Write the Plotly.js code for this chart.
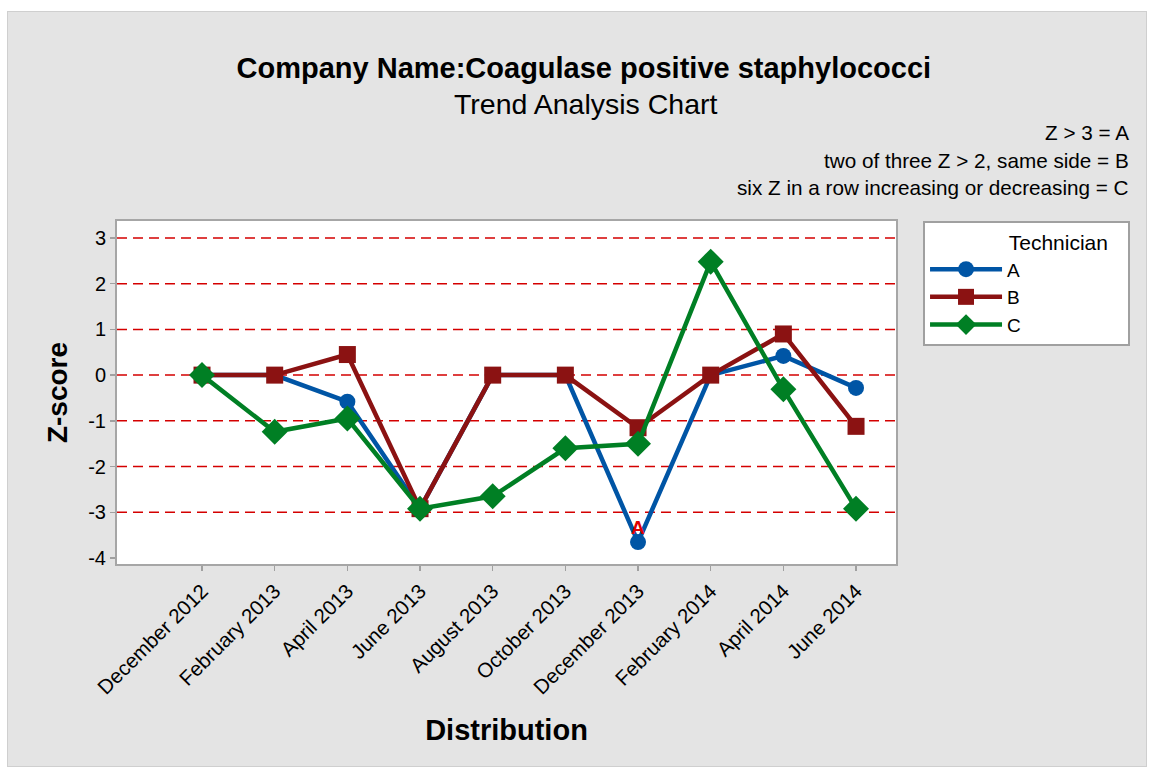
<!DOCTYPE html>
<html>
<head>
<meta charset="utf-8">
<script src="https://cdn.plot.ly/plotly-3.0.1.min.js"></script>
<style>
html,body{margin:0;padding:0;background:#ffffff;}
#chart{position:absolute;left:7px;top:11px;width:1138px;height:754px;border:1px solid #cfcfcf;}
</style>
</head>
<body>
<div id="chart"></div>
<script>
const categories = ["December 2012","February 2013","April 2013","June 2013","August 2013","October 2013","December 2013","February 2014","April 2014","June 2014"];
const techA = [0, 0, -0.58, -2.92, 0, 0, -3.65, 0, 0.42, -0.28];
const techB = [0, 0, 0.45, -2.92, 0, 0, -1.15, 0, 0.9, -1.12];
const techC = [0, -1.24, -0.95, -2.92, -2.65, -1.6, -1.5, 2.48, -0.31, -2.92];
const yTicks = [-4, -3, -2, -1, 0, 1, 2, 3];
const yTickLabels = ["-4", "-3", "-2", "-1", "0", "1", "2", "3"];
const refLevels = [-3, -2, -1, 0, 1, 2, 3];
const ruleLines = ["Z > 3 = A", "two of three Z > 2, same side = B", "six Z in a row increasing or decreasing = C"];
const flagIndex = 6;
const flagText = "A";

const idx = categories.map((c, i) => i);
const font = "Arial, 'Liberation Sans', sans-serif";
const nb = n => "\u00A0".repeat(n);

const traces = [
  {name: "A", x: idx, y: techA, type: "scatter", mode: "lines+markers",
   line: {color: "#0055a5", width: 4.5}, marker: {symbol: "circle", size: 16, color: "#0055a5"}},
  {name: "B", x: idx, y: techB, type: "scatter", mode: "lines+markers",
   line: {color: "#8b1212", width: 4.5}, marker: {symbol: "square", size: 17, color: "#8b1212"}},
  {name: "C", x: idx, y: techC, type: "scatter", mode: "lines+markers",
   line: {color: "#007f24", width: 4.5}, marker: {symbol: "diamond", size: 20, color: "#007f24"}}
];

const shapes = refLevels.map(v => ({
  type: "line", xref: "paper", x0: 0, x1: 1, yref: "y", y0: v, y1: v,
  line: {color: "#d40000", width: 1.5, dash: "10px,6px"}, layer: "below"
}));

const ruleY = [1.2566, 1.1778, 1.0991];
const annotations = ruleLines.map((t, i) => ({
  text: t, xref: "paper", yref: "paper", x: 1.3017, y: ruleY[i],
  xanchor: "right", yanchor: "middle", showarrow: false,
  font: {family: font, size: 20.7, color: "#000"}
}));
annotations.push({
  text: "Trend Analysis Chart", xref: "paper", yref: "paper", x: 0.6016, y: 1.341,
  xanchor: "center", yanchor: "middle", showarrow: false,
  font: {family: font, size: 28.5, color: "#000"}
});
annotations.push({
  text: "<b>" + flagText + "</b>", xref: "x", yref: "y", x: flagIndex, y: techA[flagIndex],
  xanchor: "center", yanchor: "bottom", yshift: 2, showarrow: false,
  font: {family: font, size: 19, color: "#e00000"}
});

const layout = {
  width: 1138, height: 754,
  paper_bgcolor: "#e4e4e4", plot_bgcolor: "#ffffff",
  margin: {l: 109, r: 250, t: 209, b: 202, autoexpand: false},
  font: {family: font, color: "#000"},
  title: {text: "<b>Company Name:Coagulase positive staphylococci</b>",
          font: {family: font, size: 29, color: "#000"},
          xref: "container", x: 0.506, xanchor: "center",
          yref: "container", y: 0.926, yanchor: "middle"},
  xaxis: {
    range: [-1.17, 9.55], tickmode: "array", tickvals: idx, ticktext: categories,
    tickangle: -45, tickfont: {family: font, size: 20.5, color: "#000"},
    ticks: "outside", ticklen: 5, tickcolor: "#a0a0a0", tickwidth: 1.5,
    showgrid: false, zeroline: false, showline: true, mirror: true,
    linecolor: "#a6a6a6", linewidth: 2, automargin: false,
    title: {text: "<b>Distribution</b>", font: {family: font, size: 29, color: "#000"}, standoff: 22}
  },
  yaxis: {
    range: [-4.13, 3.37], tickmode: "array", tickvals: yTicks, ticktext: yTickLabels,
    tickfont: {family: font, size: 20, color: "#000"},
    ticks: "outside", ticklen: 5, tickcolor: "#a0a0a0", tickwidth: 1.5,
    showgrid: false, zeroline: false, showline: true, mirror: true,
    linecolor: "#a6a6a6", linewidth: 2, automargin: false,
    title: {text: "<b>Z-score</b>", font: {family: font, size: 28, color: "#000"}, standoff: 12}
  },
  legend: {
    x: 1.0347, y: 1, xanchor: "left", yanchor: "top",
    bgcolor: "#ffffff", bordercolor: "#a0a0a0", borderwidth: 2,
    font: {family: font, size: 19, color: "#000"},
    title: {text: nb(14) + "Technician" + nb(3), side: "top", font: {family: font, size: 21, color: "#000"}},
    itemwidth: 72, tracegroupgap: 0
  },
  shapes: shapes,
  annotations: annotations,
  showlegend: true
};

Plotly.newPlot("chart", traces, layout, {displayModeBar: false, staticPlot: true});
</script>
</body>
</html>
